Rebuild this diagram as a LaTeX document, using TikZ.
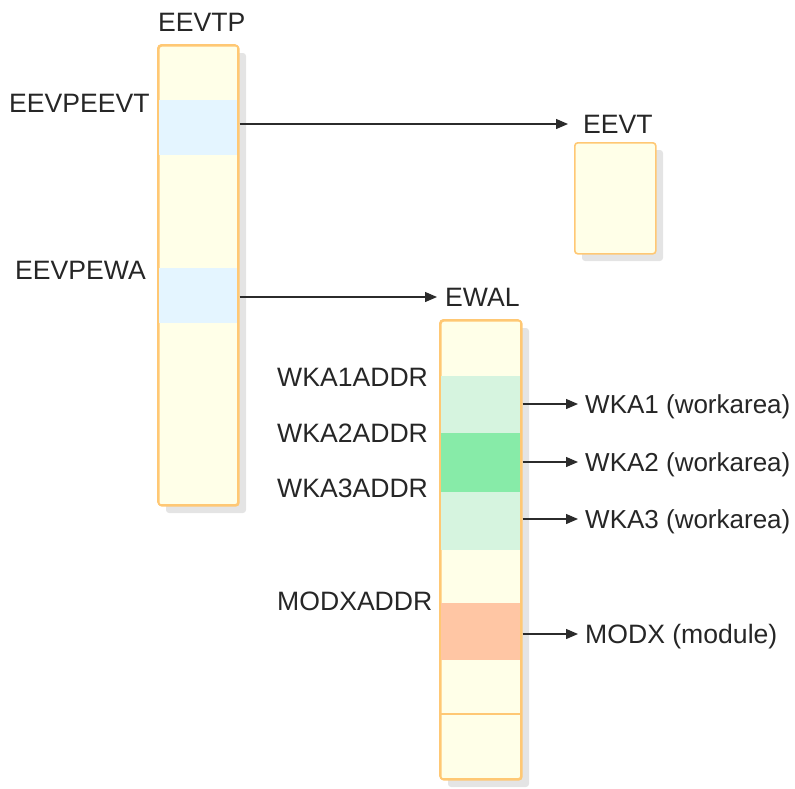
\documentclass[tikz,border=0pt]{standalone}
\usepackage{fontspec}
\setmainfont{Liberation Sans}
\usetikzlibrary{arrows.meta,positioning,calc}
\definecolor{cream}{HTML}{FFFFE8}
\definecolor{boxborder}{HTML}{FFC874}
\definecolor{bandblue}{HTML}{E4F5FF}
\definecolor{bandlgreen}{HTML}{D6F4DF}
\definecolor{bandgreen}{HTML}{87EBA8}
\definecolor{bandorange}{HTML}{FFC6A4}
\definecolor{shadowgray}{HTML}{E4E4E4}
\definecolor{linegray}{HTML}{2B2B2B}
\tikzset{
  blockbox/.style={draw=boxborder, line width=1.6pt, fill=cream, rounded corners=3pt, inner sep=0pt, anchor=north west},
  band/.style={fill=#1, draw=none, inner sep=0pt, anchor=north west},
  lbl/.style={font=\fontsize{26.6}{31}\selectfont, text=black!85, inner sep=0pt, text height=19.1pt, text depth=0pt},
  ptr/.style={draw=linegray, line width=1.3pt, -{Triangle[length=12pt,width=10pt]}},
}
\begin{document}
\begin{tikzpicture}[x=1pt,y=-1pt]
\useasboundingbox (0,0) rectangle (795,788);
% shadows
\fill[shadowgray, rounded corners=3pt] (166,53) rectangle (246,513);
\fill[shadowgray, rounded corners=3pt] (582,150) rectangle (663,261);
\fill[shadowgray, rounded corners=3pt] (448,328) rectangle (529,787);
% EEVTP
\node[blockbox, minimum width=80pt, minimum height=460pt] (eevtp) at (158,45) {};
\node[band=bandblue, minimum width=78.4pt, minimum height=55pt] (bandeevt) at (158.8,100) {};
\node[band=bandblue, minimum width=78.4pt, minimum height=55pt] (bandewa) at (158.8,268) {};
\draw[boxborder, line width=1.6pt, rounded corners=3pt] (158,45) rectangle (238,505);
% EEVT
\node[blockbox, minimum width=81pt, minimum height=111pt] (eevt) at (574,142) {};
% EWAL
\node[blockbox, minimum width=81pt, minimum height=459pt] (ewal) at (440,320) {};
\node[band=bandlgreen, minimum width=79.4pt, minimum height=57pt] (bwka1) at (440.8,376) {};
\node[band=bandgreen, minimum width=79.4pt, minimum height=59pt] (bwka2) at (440.8,433) {};
\node[band=bandlgreen, minimum width=79.4pt, minimum height=58pt] (bwka3) at (440.8,492) {};
\node[band=bandorange, minimum width=79.4pt, minimum height=57pt] (bmodx) at (440.8,603) {};
\draw[boxborder, line width=1.6pt, rounded corners=3pt] (440,320) rectangle (521,779);
\coordinate (sepl) at (440,714);
\coordinate (sepr) at (521,714);
\draw[boxborder, line width=1.6pt] (sepl) -- (sepr);
% labels
\node[lbl, anchor=west] (teevtp) at (158,22) {EEVTP};
\node[lbl, anchor=west] (teevpeevt) at (9,103) {EEVPEEVT};
\node[lbl, anchor=west] (teevpewa) at (15,270) {EEVPEWA};
\node[lbl, anchor=west] (twka1addr) at (277,377) {WKA1ADDR};
\node[lbl, anchor=west] (twka2addr) at (277,433) {WKA2ADDR};
\node[lbl, anchor=west] (twka3addr) at (277,488) {WKA3ADDR};
\node[lbl, anchor=west] (tmodxaddr) at (277,601) {MODXADDR};
\node[lbl, anchor=west] (teevt) at (583,124) {EEVT};
\node[lbl, anchor=west] (tewal) at (445,297) {EWAL};
\node[lbl, anchor=west, font=\fontsize{26}{31}\selectfont] (twka1) at (585,404) {WKA1 (workarea)};
\node[lbl, anchor=west, font=\fontsize{26}{31}\selectfont] (twka2) at (585,462) {WKA2 (workarea)};
\node[lbl, anchor=west, font=\fontsize{26}{31}\selectfont] (twka3) at (585,519) {WKA3 (workarea)};
\node[lbl, anchor=west] (tmodx) at (585,634) {MODX (module)};
% pointers
\draw[ptr, shorten >=15pt] (teevt.west -| eevtp.east) -- (teevt.west);
\draw[ptr, shorten >=8pt] (tewal.west -| eevtp.east) -- (tewal.west);
\draw[ptr, shorten >=7pt] (twka1.west -| ewal.east) -- (twka1.west);
\draw[ptr, shorten >=7pt] (twka2.west -| ewal.east) -- (twka2.west);
\draw[ptr, shorten >=7pt] (twka3.west -| ewal.east) -- (twka3.west);
\draw[ptr, shorten >=7pt] (tmodx.west -| ewal.east) -- (tmodx.west);
\end{tikzpicture}
\end{document}
